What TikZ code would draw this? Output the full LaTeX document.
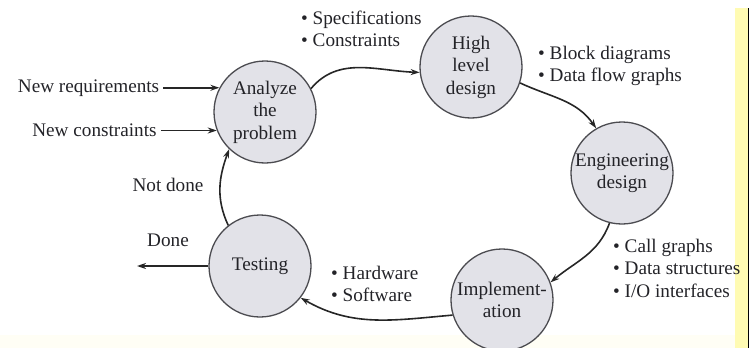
\documentclass[tikz,border=0pt]{standalone}
\usepackage{fontspec}
\setmainfont{Liberation Serif}
\usetikzlibrary{arrows.meta,calc}
\definecolor{circfill}{RGB}{226,226,232}
\definecolor{circline}{RGB}{75,75,80}
\definecolor{txt}{RGB}{35,35,40}
\tikzset{
  stage/.style={circle,draw=circline,line width=1.3pt,fill=circfill,minimum size=102pt,inner sep=0pt,align=center,text=txt,font=\fontsize{19.2}{22.5}\selectfont},
  lbl/.style={align=left,text=txt,font=\fontsize{19.2}{22.5}\selectfont,inner sep=0pt},
  arr/.style={draw=black!85,line width=1.6pt,-{Stealth[length=9pt,width=6pt]}}
}
\begin{document}
\begin{tikzpicture}[x=1pt,y=-1pt]
\useasboundingbox (0,0) rectangle (755,348);
\fill[yellow!4] (0,335) rectangle (740,348);
\fill[yellow!30] (735,8) rectangle (748,348);
\draw[line width=1pt] (748.5,8) -- (748.5,348);

\node[stage] (ana) at (265,112) {Analyze\\the\\problem};
\node[stage] (high) at (471,67) {High\\level\\design};
\node[stage] (eng) at (622,173) {Engineering\\design};
\node[stage] (impl) at (502,300) {Implement-\\ation};
\node[stage] (test) at (260,266) {Testing};

\node[lbl,anchor=east] (nr) at ($(ana.152)+(-60,0)$) {New requirements};
\node[lbl,anchor=east] (nc) at ($(ana.201)+(-60,0)$) {New constraints};
\draw[arr] (nr.east) ++(4,0) coordinate (nrs) -- (ana.152);
\draw[arr] (nc.east) ++(4,0) coordinate (ncs) -- (ana.201);

\node[lbl,anchor=west] (spec) at (301,29) {• Specifications\\• Constraints};
\node[lbl,anchor=west] (block) at (538,66) {• Block diagrams\\• Data flow graphs};
\node[lbl,anchor=west] (call) at (613,268) {• Call graphs\\• Data structures\\• I/O interfaces};
\node[lbl,anchor=west] (hw) at (331,284) {• Hardware\\• Software};
\node[lbl] (notdone) at (168,185) {Not done};
\node[lbl] (done) at (168,240) {Done};

\draw[arr] (ana.27) to[out=50,in=178] (high.186);
\draw[arr] (high.-18) to[out=-25,in=125] (eng.120);
\draw[arr] (eng.-104) to[out=-110,in=40] (impl.20);
\draw[arr] (impl.197) to[out=185,in=-30] (test.-38);
\draw[arr] (test.128) to[out=115,in=250] (ana.226);
\coordinate (doneend) at (137,266);
\draw[arr] (test.west) -- (doneend);
\end{tikzpicture}
\end{document}
